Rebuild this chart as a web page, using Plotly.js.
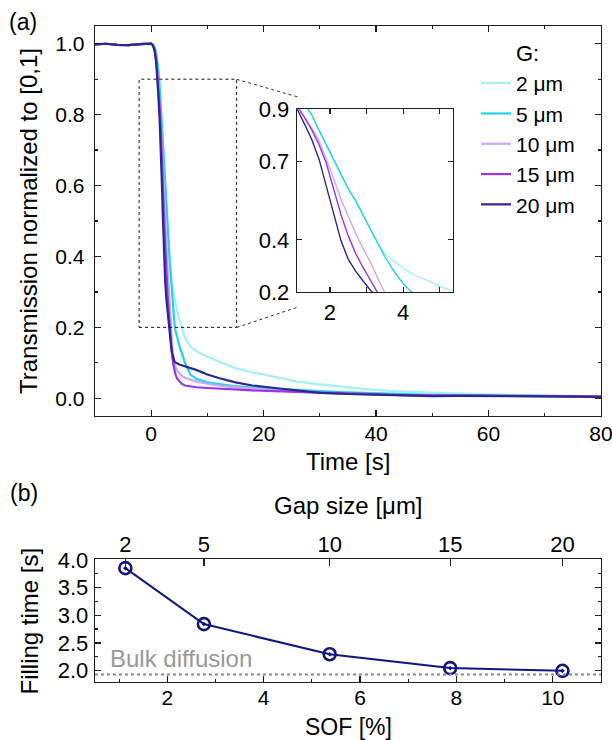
<!DOCTYPE html>
<html>
<head>
<meta charset="utf-8">
<script src="https://cdn.plot.ly/plotly-3.0.1.min.js"></script>
<style>html,body{margin:0;padding:0;background:#fff;}#chart{width:612px;height:740px;}</style>
</head>
<body>
<div id="chart"></div>
<script>
// ---------- Data: panel (a) ----------
const time = [-10, -8, -6, -4, -2, -1, 0, 0.3, 0.6, 0.9, 1.1, 1.3, 1.5, 1.7, 1.9, 2.1, 2.3, 2.5, 2.7, 2.9, 3.1, 3.3, 3.5, 3.7, 3.9, 4.1, 4.3, 4.6, 5.0, 5.4, 6, 7, 8, 10, 12, 15, 18, 22, 26, 30, 35, 40, 45, 50, 55, 60, 65, 70, 75, 80];

const gap2um = [0.998, 1.0, 0.997, 0.996, 0.999, 1.0, 1.0, 0.998, 0.99, 0.972, 0.95, 0.92, 0.88, 0.82, 0.765, 0.71, 0.65, 0.595, 0.55, 0.495, 0.44, 0.387, 0.345, 0.322, 0.302, 0.283, 0.265, 0.248, 0.222, 0.2, 0.172, 0.145, 0.133, 0.117, 0.105, 0.085, 0.073, 0.06, 0.047, 0.039, 0.031, 0.023, 0.019, 0.015, 0.013, 0.011, 0.009, 0.008, 0.006, 0.005];
const gap5um = [0.998, 1.0, 0.997, 0.996, 0.999, 1.0, 1.0, 0.998, 0.99, 0.972, 0.95, 0.92, 0.88, 0.82, 0.765, 0.71, 0.65, 0.595, 0.55, 0.495, 0.44, 0.385, 0.335, 0.29, 0.25, 0.217, 0.192, 0.172, 0.15, 0.13, 0.1, 0.066, 0.055, 0.045, 0.04, 0.034, 0.03, 0.026, 0.023, 0.02, 0.017, 0.014, 0.012, 0.01, 0.009, 0.008, 0.007, 0.007, 0.006, 0.005];
const gap10um = [0.998, 1.0, 0.997, 0.996, 0.999, 1.0, 1.0, 0.996, 0.985, 0.955, 0.913, 0.87, 0.828, 0.78, 0.71, 0.635, 0.555, 0.488, 0.425, 0.368, 0.315, 0.255, 0.195, 0.155, 0.125, 0.105, 0.09, 0.078, 0.07, 0.064, 0.058, 0.052, 0.047, 0.041, 0.036, 0.031, 0.027, 0.022, 0.018, 0.015, 0.012, 0.01, 0.009, 0.008, 0.007, 0.007, 0.006, 0.006, 0.005, 0.005];
const gap15um = [0.998, 1.0, 0.997, 0.996, 0.999, 1.0, 1.0, 0.996, 0.985, 0.955, 0.915, 0.87, 0.822, 0.765, 0.693, 0.59, 0.497, 0.415, 0.348, 0.295, 0.248, 0.198, 0.16, 0.125, 0.098, 0.08, 0.068, 0.056, 0.047, 0.041, 0.036, 0.033, 0.031, 0.029, 0.027, 0.024, 0.022, 0.02, 0.018, 0.015, 0.012, 0.01, 0.009, 0.008, 0.008, 0.007, 0.007, 0.006, 0.006, 0.005];
const gap20um = [0.998, 1.0, 0.997, 0.996, 0.999, 1.0, 1.0, 0.995, 0.98, 0.945, 0.902, 0.845, 0.785, 0.71, 0.605, 0.5, 0.397, 0.325, 0.28, 0.243, 0.208, 0.18, 0.152, 0.128, 0.11, 0.104, 0.101, 0.098, 0.095, 0.093, 0.09, 0.085, 0.08, 0.067, 0.057, 0.045, 0.036, 0.029, 0.022, 0.015, 0.012, 0.01, 0.008, 0.006, 0.007, 0.006, 0.005, 0.006, 0.005, 0.004];

const seriesNames = ['2 μm', '5 μm', '10 μm', '15 μm', '20 μm'];
const seriesValues = [gap2um, gap5um, gap10um, gap15um, gap20um];
const seriesColors = ['#a3f1f7', '#22d5e6', '#cfa6f3', '#9b35ee', '#2b2a8a'];

// Zoom window shown in the inset
const zoomTime = [-2.15, 15.2];
const zoomLevel = [0.2, 0.9];
const insetTimeRange = [1.1, 5.36];

// ---------- Data: panel (b) ----------
const sof = [1.13, 2.76, 5.37, 7.87, 10.2];
const fillingTime = [3.85, 2.84, 2.295, 2.045, 1.995];
const gapSize = ['2', '5', '10', '15', '20'];
const bulkDiffusion = 1.93;

// ---------- Layout helpers ----------
const W = 612, H = 740;
const px = v => v / W;
const py = v => 1 - v / H;
const FONT = 'Arial, "Liberation Sans", sans-serif';
const AX = '#1e1e1e';

const traces = [];
seriesValues.forEach((vals, i) => {
  traces.push({
    x: time, y: vals, type: 'scatter', mode: 'lines', name: seriesNames[i],
    xaxis: 'x', yaxis: 'y', line: {color: seriesColors[i], width: 2.2}, hoverinfo: 'skip'
  });
});
seriesValues.forEach((vals, i) => {
  traces.push({
    x: time, y: vals, type: 'scatter', mode: 'lines', name: seriesNames[i],
    xaxis: 'x2', yaxis: 'y2', line: {color: seriesColors[i], width: 1.4},
    showlegend: false, hoverinfo: 'skip'
  });
});
traces.push({
  x: sof, y: fillingTime, type: 'scatter', mode: 'lines+markers',
  xaxis: 'x3', yaxis: 'y3', showlegend: false,
  line: {color: '#10167f', width: 2},
  marker: {symbol: 'circle-open-dot', size: 12, color: '#10167f', line: {width: 2.6, color: '#10167f'}}
});
traces.push({
  x: sof, y: fillingTime, type: 'scatter', mode: 'markers',
  xaxis: 'x4', yaxis: 'y3', showlegend: false, hoverinfo: 'skip',
  marker: {opacity: 0}
});

const baseAxis = {
  showgrid: false, zeroline: false, showline: true, linecolor: AX, linewidth: 1.3,
  ticks: 'inside', ticklen: 6, tickwidth: 1.2, tickcolor: AX, ticklabeloverflow: 'allow',
  tickfont: {family: FONT, size: 21, color: '#000'}, fixedrange: true
};
const bFont = {family: FONT, size: 22, color: '#000'};

const ann = (text, x, y, size, extra) => Object.assign({
  text: text, xref: 'paper', yref: 'paper', x: px(x), y: py(y),
  xanchor: 'center', yanchor: 'middle', showarrow: false,
  font: {family: FONT, size: size, color: '#000'}
}, extra || {});

const layout = {
  width: W, height: H, autosize: false,
  margin: {l: 0, r: 0, t: 0, b: 0},
  paper_bgcolor: '#fff', plot_bgcolor: 'rgba(0,0,0,0)',
  font: {family: FONT, size: 21, color: '#000'},
  showlegend: true,
  legend: {
    x: px(476), y: py(63), xanchor: 'left', yanchor: 'top',
    bgcolor: 'rgba(0,0,0,0)', borderwidth: 0,
    font: {family: FONT, size: 21, color: '#000'}, traceorder: 'normal'
  },
  xaxis: Object.assign({}, baseAxis, {
    domain: [px(95), px(601)], anchor: 'y', range: [-10, 80.02],
    tick0: 0, dtick: 20, mirror: 'ticks', ticklabelstandoff: -2,
    minor: {dtick: 10, ticks: 'inside', ticklen: 3, tickcolor: AX, tickwidth: 1.2}
  }),
  yaxis: Object.assign({}, baseAxis, {
    domain: [py(416), py(26)], anchor: 'x', range: [-0.05, 1.05],
    tick0: 0, dtick: 0.2, tickformat: '.1f', mirror: 'ticks', ticklabelstandoff: 5,
    minor: {dtick: 0.1, ticks: 'inside', ticklen: 3, tickcolor: AX, tickwidth: 1.2}
  }),
  xaxis2: Object.assign({}, baseAxis, {
    domain: [px(297), px(453)], anchor: 'y2', range: insetTimeRange,
    tick0: 0, dtick: 2, mirror: 'ticks', ticklen: 5,
    tickfont: {family: FONT, size: 22, color: '#000'},
    minor: {dtick: 1, ticks: 'inside', ticklen: 5, tickcolor: AX, tickwidth: 1.2}
  }),
  yaxis2: Object.assign({}, baseAxis, {
    domain: [py(292), py(109.3)], anchor: 'x2', range: zoomLevel,
    tickmode: 'array', tickvals: [0.2, 0.4, 0.7, 0.9], tickformat: '.1f',
    tickfont: {family: FONT, size: 22, color: '#000'},
    mirror: 'ticks', ticklen: 5, ticklabelstandoff: 2
  }),
  xaxis3: Object.assign({}, baseAxis, {
    domain: [px(95), px(601)], anchor: 'y3', range: [0.5, 11],
    tick0: 0, dtick: 2, mirror: true, ticklabelstandoff: -3,
    tickfont: {family: FONT, size: 21, color: '#000'},
    minor: {dtick: 1, ticks: 'inside', ticklen: 3, tickcolor: AX, tickwidth: 1.2}
  }),
  xaxis4: Object.assign({}, baseAxis, {
    overlaying: 'x3', side: 'top', anchor: 'y3', range: [0.5, 11],
    tickmode: 'array', tickvals: sof, ticktext: gapSize, ticklen: 7, ticklabelstandoff: -3, tickfont: bFont
  }),
  yaxis3: Object.assign({}, baseAxis, {
    domain: [py(681.5), py(559.3)], anchor: 'x3', range: [1.803, 4.01],
    tick0: 0, dtick: 0.5, tickformat: '.1f', mirror: 'ticks', ticklabelstandoff: 1, tickfont: bFont,
    minor: {dtick: 0.25, ticks: 'inside', ticklen: 3, tickcolor: AX, tickwidth: 1.2}
  }),
  shapes: [
    {type: 'rect', xref: 'x', yref: 'y', x0: zoomTime[0], x1: zoomTime[1], y0: zoomLevel[0], y1: zoomLevel[1],
     line: {color: '#111', width: 1, dash: 'dot'}, fillcolor: 'rgba(0,0,0,0)'},
    {type: 'line', xref: 'paper', yref: 'paper', x0: px(236.7), y0: py(79.3), x1: px(298), y1: py(97),
     line: {color: '#333', width: 1, dash: 'dot'}},
    {type: 'line', xref: 'paper', yref: 'paper', x0: px(236.7), y0: py(327.5), x1: px(298), y1: py(307),
     line: {color: '#333', width: 1, dash: 'dot'}},
    {type: 'line', xref: 'x3 domain', yref: 'y3', x0: 0, x1: 1, y0: bulkDiffusion, y1: bulkDiffusion,
     line: {color: '#8a8a8a', width: 2, dash: 'dot'}}
  ],
  annotations: [
    ann('(a)', 22.5, 22, 23),
    ann('(b)', 23.5, 493, 23),
    ann('Time [s]', 348, 461, 24),
    ann('Transmission normalized to [0,1]', 28.5, 221.5, 24, {textangle: -90}),
    ann('G:', 514, 53, 22, {xanchor: 'left'}),
    ann('Gap size [μm]', 348, 505, 24),
    ann('SOF [%]', 348, 726.5, 23),
    ann('Filling time [s]', 28.5, 621, 24, {textangle: -90}),
    ann('Bulk diffusion', 108, 658, 24, {xanchor: 'left', font: {family: FONT, size: 24, color: '#999'}})
  ]
};

Plotly.newPlot('chart', traces, layout, {staticPlot: true, displayModeBar: false});
</script>
</body>
</html>
